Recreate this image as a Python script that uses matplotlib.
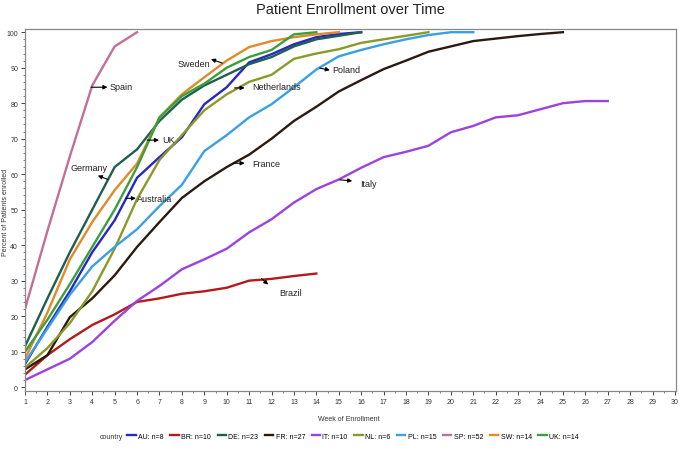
import numpy as np
import matplotlib
matplotlib.use('Agg')
import matplotlib.pyplot as plt
from matplotlib.lines import Line2D

plt.rcParams['font.family'] = ['Liberation Sans', 'DejaVu Sans']

# cumulative percent of patients enrolled, one value per week starting at week 1
countries = ['AU', 'BR', 'DE', 'FR', 'IT', 'NL', 'PL', 'SP', 'SW', 'UK']
n_patients = [8, 10, 23, 27, 10, 6, 15, 52, 14, 14]

au = [6.5, 17, 27, 38, 47, 59, 64.8, 70.4, 79.7, 84.5, 91.5, 93.8, 96.6, 98.6, 99.5, 100]
br = [3.5, 9, 13.5, 17.5, 20.5, 24, 25, 26.3, 27, 28, 30, 30.5, 31.3, 32]
de = [11.5, 25, 38, 50, 62, 67, 75, 81, 85, 88, 91, 93, 96, 98, 99, 100]
fr = [5, 9, 19.7, 25, 31.5, 39.5, 46.5, 53.3, 58, 62, 65.5, 70, 75, 79, 83.3,
      86.5, 89.6, 92, 94.5, 96, 97.5, 98.2, 98.9, 99.5, 100]
it = [2, 5, 8, 12.7, 18.7, 24.3, 28.5, 33.2, 36, 39, 43.6, 47.3, 52, 55.8, 58.5,
      61.8, 64.8, 66.3, 68, 71.8, 73.6, 76, 76.6, 78.3, 80, 80.6, 80.6]
nl = [5.5, 11, 18, 27, 39, 53, 64, 71, 78, 82.5, 86, 88, 92.5, 94, 95.2, 97, 98, 99, 100]
pl = [7, 16.5, 26, 34, 39.5, 44.5, 51, 57, 66.5, 71, 76, 79.7, 84.5, 89.5, 93.2,
      95, 96.6, 98, 99.2, 100, 100]
sp = [22, 44, 65, 85, 96, 100]
sw = [8, 21, 36, 46.5, 55.5, 63, 76, 82.5, 87.3, 92, 95.8, 97.5, 98.6, 99.4, 100]
uk = [10, 19, 29, 39.5, 50, 62, 76, 82, 85.5, 90, 93, 95, 99.4, 100]

series = [au, br, de, fr, it, nl, pl, sp, sw, uk]
colors = ['#2727c4', '#b31b1b', '#1f5f50', '#2b1a10', '#9b42e0',
          '#8a9a28', '#3aa0e6', '#c26f9a', '#e08a2a', '#3c9f3a']

# label text, text position, arrow tail, arrow head
labels = [
    ('Spain', (4.78, 84.8), (3.95, 84.5), (4.68, 84.5)),
    ('Sweden', (7.8, 91.2), (9.8, 91.3), (9.3, 92.4)),
    ('Netherlands', (11.15, 84.8), (10.35, 84.3), (10.8, 84.3)),
    ('Poland', (14.7, 89.6), (14.15, 89.9), (14.6, 89.3)),
    ('UK', (7.12, 69.9), (6.45, 69.6), (6.98, 69.6)),
    ('Germany', (3.05, 62.0), (4.7, 58.5), (4.25, 59.6)),
    ('Australia', (6.0, 53.2), (5.5, 53.2), (5.95, 53.2)),
    ('France', (11.15, 63.1), (10.3, 63.1), (10.8, 63.1)),
    ('Italy', (15.95, 57.3), (15.05, 58.4), (15.6, 58.1)),
    ('Brazil', (12.35, 26.8), (11.55, 30.6), (11.85, 28.9)),
]

fig = plt.figure(figsize=(6.85, 4.52), dpi=100)
ax = fig.add_axes([0.0365, 0.1327, 0.9505, 0.8009])

for vals, c in zip(series, colors):
    weeks = np.arange(1, len(vals) + 1)
    ax.plot(weeks, vals, color=c, lw=1.7, solid_joinstyle='round')

for text, tpos, tail, head in labels:
    ax.text(tpos[0], tpos[1], text, fontsize=6.5, ha='left', va='center', color='#222222')
    ax.annotate('', xy=head, xytext=tail,
                arrowprops=dict(arrowstyle='-|>', color='black', lw=0.8,
                                mutation_scale=6, shrinkA=0, shrinkB=0))

ax.set_xlim(1, 30.05)
ax.set_ylim(-1.1, 100.9)
ax.set_xticks(range(1, 31))
ax.set_xticks(np.arange(1.5, 30, 1), minor=True)
ax.set_yticks(range(0, 101, 10))
ax.set_yticks(range(0, 101, 2), minor=True)
ax.tick_params(axis='both', which='major', labelsize=5, length=3, width=0.7,
               color='#444444', labelcolor='#333333', pad=2)
ax.tick_params(axis='both', which='minor', length=1.5, width=0.6, color='#666666')
for s in ax.spines.values():
    s.set_color('#888888')
    s.set_linewidth(0.9)

fig.text(0.511, 0.977, 'Patient Enrollment over Time', ha='center', va='center',
         fontsize=10.5, color='#222222')
fig.text(0.509, 0.071, 'Week of Enrollment', ha='center', va='center',
         fontsize=5, color='#333333')
fig.text(0.008, 0.53, 'Percent of Patients enrolled', ha='center', va='center',
         rotation=90, fontsize=5, color='#333333')

handles = [Line2D([], [], color=c, lw=1.7) for c in colors]
leg_labels = ['%s: n=%d' % (k, n) for k, n in zip(countries, n_patients)]
fig.text(0.146, 0.033, 'country', ha='left', va='center', fontsize=5, color='#333333')
fig.legend(handles, leg_labels, loc='center left', bbox_to_anchor=(0.186, 0.033),
           ncol=10, frameon=False, fontsize=5, handlelength=1.2, handletextpad=0.35,
           columnspacing=0.95, borderpad=0, borderaxespad=0)

fig.savefig('out.png', dpi=100)
